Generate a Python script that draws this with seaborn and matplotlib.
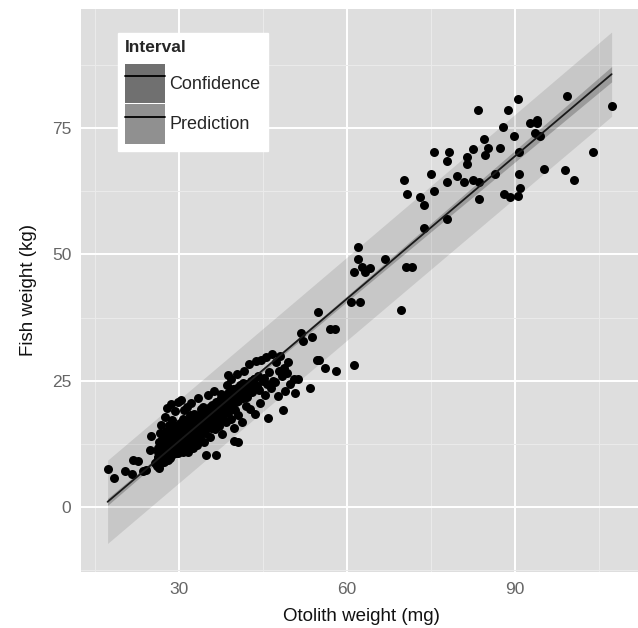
import numpy as np
import pandas as pd
import matplotlib
matplotlib.use("Agg")
import matplotlib.pyplot as plt
from matplotlib.lines import Line2D
from matplotlib.patches import Patch
from matplotlib.ticker import MultipleLocator
import seaborn as sns

# =============================================================================
# Data
# =============================================================================
# small fish, sparse tail and a few outliers below the cluster
TAIL_MG = [17.2, 18.3, 20.4, 21.6, 21.8, 22.6, 23.6, 24.1, 24.7, 25.0, 25.6, 26.2,
           34.8, 36.6, 39.8, 40.6, 38.7, 48.5]
TAIL_KG = [7.5, 5.8, 7.1, 6.5, 9.3, 9.0, 7.1, 7.3, 11.3, 14.1, 8.7, 9.8,
           10.2, 10.2, 13.1, 12.9, 26.1, 19.1]

# visible edge of the dense cluster
CLUSTER_MG = [
    26.0, 26.2, 26.4, 26.5, 26.7, 26.8, 27.0,
    27.1, 27.3, 27.4, 27.5, 27.6, 27.7, 27.8, 27.9,
    28.0, 28.1, 28.2, 28.3, 28.4, 28.5, 28.6, 28.7, 28.8, 28.9, 28.95,
    29.0, 29.1, 29.2, 29.3, 29.4, 29.5, 29.6, 29.7, 29.8, 29.9, 29.95,
    30.0, 30.1, 30.2, 30.3, 30.4, 30.5, 30.6, 30.7, 30.8, 30.9, 30.95,
    31.0, 31.1, 31.2, 31.3, 31.4, 31.5, 31.6, 31.7, 31.8, 31.9, 31.95,
    32.0, 32.1, 32.2, 32.3, 32.4, 32.5, 32.6, 32.7, 32.8, 32.9, 32.95,
    33.0, 33.1, 33.2, 33.3, 33.4, 33.5, 33.6, 33.7, 33.8, 33.9,
    34.0, 34.1, 34.3, 34.4, 34.5, 34.7, 34.8, 34.9,
    35.0, 35.1, 35.3, 35.4, 35.5, 35.7, 35.8, 35.9,
    36.0, 36.2, 36.3, 36.4, 36.6, 36.7, 36.9,
    37.0, 37.1, 37.3, 37.4, 37.6, 37.7, 37.9,
    38.0, 38.2, 38.3, 38.5, 38.6, 38.8, 38.9,
    39.0, 39.2, 39.3, 39.5, 39.6, 39.8, 39.9,
    40.0, 40.2, 40.4, 40.5, 40.7, 40.9,
    41.0, 41.2, 41.4, 41.5, 41.7, 41.9,
    42.0, 42.2, 42.4, 42.6, 42.8,
    43.0, 43.3, 43.5, 43.7, 43.9,
    44.1, 44.3, 44.5, 44.7, 44.9,
    45.1, 45.3, 45.5, 45.7, 45.9,
    46.1, 46.4, 46.6, 46.8,
    47.1, 47.3, 47.6, 47.8,
    48.0, 48.3, 48.7, 48.9,
    49.2, 49.5, 49.8,
]
CLUSTER_KG = [
    9.0, 11.6, 12.9, 14.7, 12.2, 16.3, 13.4,
    10.2, 13.1, 14.6, 17.8, 12.4, 15.0, 13.8, 19.6,
    12.0, 14.8, 16.2, 9.9, 13.6, 20.4, 15.1, 13.0, 17.3, 14.4, 11.5,
    15.4, 13.2, 18.9, 14.0, 10.6, 16.1, 14.7, 20.8, 12.5, 15.8, 13.9,
    14.3, 16.6, 11.2, 15.5, 21.2, 13.6, 17.4, 15.0, 12.7, 19.1, 16.0,
    15.1, 12.1, 17.0, 14.6, 19.8, 16.3, 10.8, 15.7, 13.9, 18.1, 16.8,
    16.0, 14.2, 20.6, 17.1, 11.6, 15.6, 18.4, 13.5, 16.7, 15.2, 17.8,
    14.9, 17.4, 12.3, 16.4, 21.6, 18.2, 15.8, 17.0, 13.2, 19.3,
    17.9, 15.2, 19.7, 16.6, 12.8, 18.5, 17.2, 15.9,
    18.3, 22.2, 16.5, 19.0, 13.9, 17.6, 20.1, 18.8,
    17.3, 19.5, 23.0, 15.4, 18.9, 20.6, 17.9,
    20.2, 16.0, 19.0, 22.4, 18.1, 14.4, 21.0,
    19.6, 21.7, 16.9, 24.2, 20.4, 18.6, 22.5,
    21.3, 17.5, 25.3, 20.0, 22.4, 15.6, 19.2,
    22.0, 20.7, 26.4, 18.2, 23.3, 21.6,
    23.1, 16.8, 21.5, 27.0, 22.6, 19.9,
    24.3, 21.8, 28.2, 19.4, 23.5,
    22.7, 25.4, 18.4, 28.8, 24.0,
    26.0, 23.2, 20.5, 29.0, 24.9,
    25.5, 22.1, 29.7, 24.4, 17.6,
    26.8, 23.6, 30.2, 25.0,
    24.7, 28.6, 21.9, 26.9,
    29.8, 25.9, 27.6, 23.0,
    26.6, 28.7, 24.4,
]

# solid core of the cluster (points hidden under one another)
CORE_MG = [
    26.1, 26.2, 26.3, 26.4, 26.6, 26.7, 26.8, 26.9,
    27.05, 27.15, 27.25, 27.35, 27.45, 27.55, 27.65, 27.75, 27.85, 27.95,
    28.05, 28.15, 28.25, 28.35, 28.45, 28.55, 28.65, 28.75, 28.85, 28.95,
    29.05, 29.15, 29.25, 29.35, 29.45, 29.55, 29.65, 29.75, 29.85, 29.95,
    30.05, 30.15, 30.25, 30.35, 30.45, 30.55, 30.65, 30.75, 30.85, 30.95,
    31.05, 31.15, 31.25, 31.35, 31.45, 31.55, 31.65, 31.75, 31.85, 31.95,
    32.05, 32.15, 32.25, 32.35, 32.45, 32.55, 32.65, 32.75, 32.85, 32.95,
    33.05, 33.15, 33.25, 33.35, 33.45, 33.55, 33.65, 33.75, 33.85, 33.95,
    34.05, 34.15, 34.25, 34.35, 34.45, 34.55, 34.65, 34.75, 34.85, 34.95,
    35.05, 35.15, 35.25, 35.35, 35.45, 35.55, 35.65, 35.75, 35.85, 35.95,
    36.05, 36.15, 36.35, 36.45, 36.55, 36.75, 36.85, 36.95,
    37.05, 37.15, 37.25, 37.45, 37.55, 37.65, 37.85, 37.95,
    38.05, 38.15, 38.35, 38.45, 38.65, 38.75,
    39.05, 39.15, 39.35, 39.45, 39.65, 39.75,
    40.15, 40.35, 40.55, 40.75, 40.95,
    41.15, 41.35, 41.55, 41.75,
    42.3, 42.9, 43.4, 43.8,
]
CORE_KG = [
    8.1, 9.6, 10.8, 7.7, 9.1, 11.2, 8.6, 10.1,
    9.4, 11.0, 8.9, 10.6, 12.1, 9.9, 11.5, 10.3, 12.6, 9.2,
    10.1, 12.0, 11.4, 9.6, 12.9, 10.8, 13.3, 11.7, 10.4, 12.4,
    11.6, 13.0, 10.9, 12.7, 14.1, 11.3, 13.5, 12.2, 10.6, 14.4,
    12.5, 14.2, 11.8, 13.6, 15.0, 12.9, 10.9, 14.6, 13.3, 12.1,
    13.4, 15.1, 12.6, 14.7, 16.0, 13.8, 11.9, 15.5, 14.3, 12.9,
    14.5, 16.1, 13.2, 15.4, 17.0, 14.0, 12.8, 16.4, 15.1, 13.7,
    15.2, 17.1, 14.3, 16.4, 18.0, 15.7, 13.6, 16.9, 14.9, 17.5,
    16.1, 18.0, 15.0, 17.3, 18.9, 16.5, 14.6, 17.7, 15.8, 18.4,
    17.2, 19.0, 16.0, 18.3, 19.8, 17.5, 15.6, 18.7, 16.8, 19.4,
    18.1, 20.0, 17.0, 19.2, 20.7, 18.5, 16.5, 19.6,
    19.0, 20.9, 18.0, 20.2, 21.6, 19.4, 17.5, 20.6,
    20.0, 21.9, 19.1, 21.2, 22.5, 20.4,
    20.9, 22.8, 19.9, 22.1, 23.4, 21.3,
    21.8, 23.6, 20.9, 22.9, 24.1,
    22.6, 24.5, 21.9, 23.8,
    23.5, 24.9, 25.3, 24.1,
]

# mid range
MID_MG = [50.7, 50.5, 51.3, 53.3, 51.7, 52.1, 53.8, 54.8, 56.9, 57.8, 54.7, 55.0,
          56.0, 58.0, 61.3]
MID_KG = [22.6, 25.3, 25.3, 23.6, 34.4, 32.9, 33.6, 38.5, 35.2, 35.2, 29.0, 29.0,
          27.5, 26.9, 28.1]

# large fish
LARGE_MG = [
    62.0, 61.9, 61.3, 62.6, 63.2, 64.1, 66.8, 70.6, 71.7, 60.7,
    62.3, 69.6, 70.1, 70.7, 73.1, 73.7, 73.7, 75.0, 75.6, 75.6,
    77.8, 77.8, 77.8, 78.2, 79.7, 80.9, 81.4, 81.5, 82.6, 82.6,
    83.6, 83.6, 83.4, 84.4, 84.7, 85.2, 86.4, 87.3, 87.9, 88.8,
    90.5, 89.9, 90.7, 90.7, 90.9, 88.0, 89.2, 90.5, 92.7, 94.0,
    93.9, 93.6, 94.5, 95.2, 98.9, 100.6, 99.3, 103.9, 107.3,
]
LARGE_KG = [
    51.5, 49.0, 46.5, 47.6, 46.6, 47.4, 49.0, 47.5, 47.5, 40.5,
    40.5, 39.0, 64.8, 62.0, 61.4, 59.7, 55.2, 66.0, 70.2, 62.6,
    57.0, 64.4, 68.5, 70.2, 65.5, 64.3, 69.2, 67.9, 70.9, 64.7,
    64.3, 60.9, 78.6, 72.9, 69.6, 71.1, 66.0, 71.0, 75.3, 78.6,
    80.7, 73.4, 70.2, 66.0, 63.2, 62.0, 61.4, 61.5, 76.0, 76.6,
    76.0, 74.1, 73.5, 66.9, 66.7, 64.8, 81.3, 70.2, 79.3,
]

X_TICKS = [30, 60, 90]
Y_TICKS = [0, 25, 50, 75]
X_LIM = (12.45, 112.55)
Y_LIM = (-12.9, 98.6)
T_975 = 1.97  # two-sided 95% t quantile for a few hundred points

PANEL_BG = "#DEDEDE"
KEY_CONF = "#707070"
KEY_PRED = "#909090"

# =============================================================================
# Fit: OLS line with confidence and prediction intervals
# =============================================================================
df = pd.DataFrame({
    "otolith": TAIL_MG + CLUSTER_MG + CORE_MG + MID_MG + LARGE_MG,
    "fish": TAIL_KG + CLUSTER_KG + CORE_KG + MID_KG + LARGE_KG,
})
x = df["otolith"].to_numpy()
y = df["fish"].to_numpy()
n = len(x)
slope, intercept = np.polyfit(x, y, 1)
resid = y - (intercept + slope * x)
s = np.sqrt(np.sum(resid ** 2) / (n - 2))
sxx = np.sum((x - x.mean()) ** 2)

grid = np.linspace(x.min(), x.max(), 200)
fit = intercept + slope * grid
se_mean = s * np.sqrt(1.0 / n + (grid - x.mean()) ** 2 / sxx)
se_pred = s * np.sqrt(1.0 + 1.0 / n + (grid - x.mean()) ** 2 / sxx)
fit_df = pd.DataFrame({"otolith": grid, "fish": fit})

# =============================================================================
# Plot
# =============================================================================
sns.set_style("darkgrid", rc={"axes.facecolor": PANEL_BG, "grid.color": "white"})
plt.rcParams["font.family"] = ["Liberation Sans", "DejaVu Sans"]

fig = plt.figure(figsize=(6.38, 6.28), dpi=100)
ax = fig.add_axes([81 / 638, 56 / 628, 560 / 638, 563 / 628])

ax.fill_between(grid, fit - T_975 * se_pred, fit + T_975 * se_pred,
                color="black", alpha=0.1, linewidth=0, zorder=2)
ax.fill_between(grid, fit - T_975 * se_mean, fit + T_975 * se_mean,
                color="black", alpha=0.22, linewidth=0, zorder=3)

sns.scatterplot(data=df, x="otolith", y="fish", ax=ax, color="black",
                s=42, linewidth=0, zorder=4)
sns.lineplot(data=fit_df, x="otolith", y="fish", ax=ax, color="#1A1A1A",
             linewidth=1.3, zorder=5)

ax.set_xlim(*X_LIM)
ax.set_ylim(*Y_LIM)
ax.set_xticks(X_TICKS)
ax.set_yticks(Y_TICKS)
ax.xaxis.set_minor_locator(MultipleLocator(15))
ax.yaxis.set_minor_locator(MultipleLocator(12.5))
ax.grid(which="major", color="white", linewidth=1.4, zorder=0)
ax.grid(which="minor", color="#EBEBEB", linewidth=0.7, zorder=0)
ax.set_axisbelow(True)
for sp in ax.spines.values():
    sp.set_visible(False)

ax.tick_params(which="major", length=4, width=1, color="#555555",
               labelcolor="#666666", labelsize=12.5, pad=3)
ax.tick_params(which="minor", length=0)

ax.set_xlabel("Otolith weight (mg)", fontsize=13.5, color="#111111", labelpad=8)
ax.set_ylabel("Fish weight (kg)", fontsize=13.5, color="#111111", labelpad=11)

handles = [
    (Patch(facecolor=KEY_CONF, edgecolor="none"), Line2D([], [], color="black", lw=1.3)),
    (Patch(facecolor=KEY_PRED, edgecolor="none"), Line2D([], [], color="black", lw=1.3)),
]
leg = ax.legend(handles, ["Confidence", "Prediction"], title="Interval",
                loc="upper left", bbox_to_anchor=(0.066, 0.957),
                borderaxespad=0, fontsize=13, title_fontsize=12.5,
                handlelength=2.2, handleheight=3.0, labelspacing=0.05,
                handletextpad=0.25, borderpad=0.4, fancybox=False,
                framealpha=1, facecolor="white", edgecolor="white",
                alignment="left")
leg.get_title().set_fontweight("bold")
leg._legend_box.sep = 6
leg.set_zorder(10)

fig.savefig("out.png", dpi=100)
